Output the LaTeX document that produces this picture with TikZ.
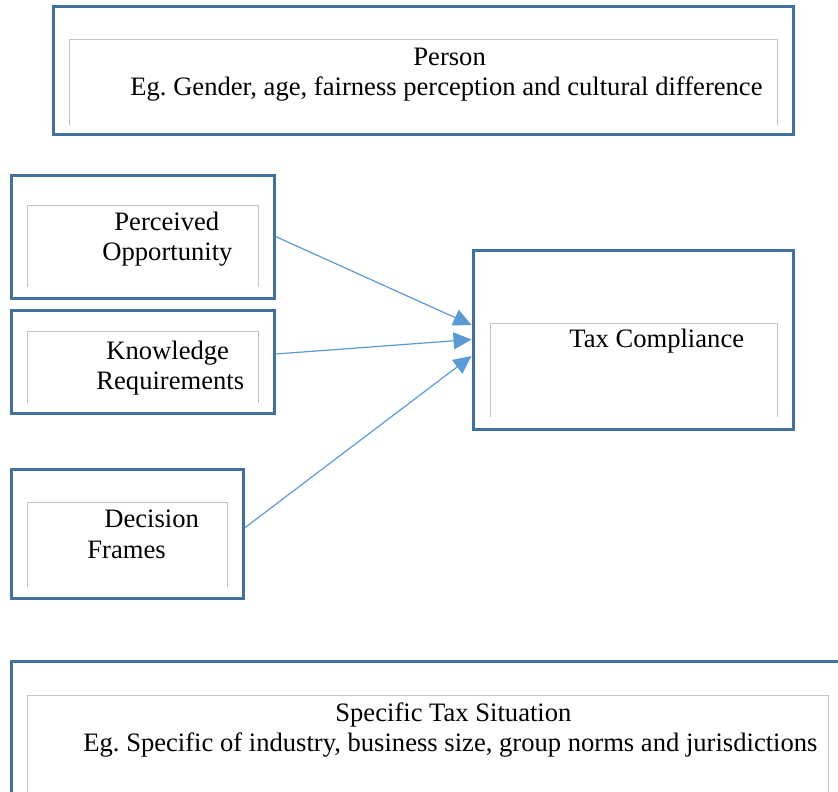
\documentclass[tikz,border=0pt]{standalone}
\usepackage{fontspec}
\setmainfont{Liberation Serif}
\usetikzlibrary{arrows.meta}
\definecolor{bordc}{HTML}{41719C}
\definecolor{arrc}{HTML}{5B9BD5}
\definecolor{innerc}{HTML}{C4C4C4}
\frenchspacing
\begin{document}
\begin{tikzpicture}[x=0.5pt,y=-0.5pt,
  outerbox/.style={draw=bordc, line width=1.5pt, rectangle, inner sep=0pt},
  innerline/.style={draw=innerc, line width=0.5pt},
  txt/.style={anchor=base west, inner sep=0pt, font=\fontsize{13.3}{15.5}\selectfont},
  arr/.style={draw=arrc, line width=0.6pt, -{Triangle[length=9pt,width=8.5pt]}}]
\useasboundingbox (0,0) rectangle (838,791);
\clip (0,0) rectangle (838,791);
% outer boxes
\node[outerbox, minimum width=370pt, minimum height=64pt] (person) at (423,71) {};
\node[outerbox, minimum width=131.5pt, minimum height=61.5pt] (perc) at (142.5,236.5) {};
\node[outerbox, minimum width=131.5pt, minimum height=51.5pt] (know) at (142.5,361.5) {};
\node[outerbox, minimum width=116pt, minimum height=64.5pt] (dec) at (127,533.5) {};
\node[outerbox, minimum width=160pt, minimum height=89.5pt] (tax) at (633,339.5) {};
\node[outerbox, minimum width=419.5pt, minimum height=74.5pt] (spec) at (430.5,735.5) {};
% inner open frames
\draw[innerline] (69,125) |- (777,40) -- (777,125);
\draw[innerline] (27,287) |- (258,205) -- (258,287);
\draw[innerline] (27,403) |- (258,331) -- (258,403);
\draw[innerline] (27,587) |- (227,502) -- (227,587);
\draw[innerline] (490,417) |- (777,323) -- (777,417);
\draw[innerline] (27,800) |- (828,695) -- (828,800);
% texts
\node[txt] (t1) at (413,66) {Person};
\node[txt] (t2) at (130,96) {Eg. Gender, age, fairness perception and cultural difference};
\node[txt] (t3) at (114,230) {Perceived};
\node[txt] (t4) at (102,260) {Opportunity};
\node[txt] (t5) at (106,359) {Knowledge};
\node[txt] (t6) at (96,389) {Requirements};
\node[txt] (t7) at (104,527) {Decision};
\node[txt] (t8) at (87,558) {Frames};
\node[txt] (t9) at (569,347) {Tax Compliance};
\node[txt] (t10) at (335,721) {Specific Tax Situation};
\node[txt] (t11) at (83,751) {Eg. Specific of industry, business size, group norms and jurisdictions};
% arrows
\draw[arr] (perc.east) -- ([yshift=7.25pt]tax.west);
\draw[arr] ([yshift=3.75pt]know.east) -- (tax.west);
\draw[arr] ([yshift=2.75pt]dec.east) -- ([yshift=-8.25pt]tax.west);
\end{tikzpicture}
\end{document}
